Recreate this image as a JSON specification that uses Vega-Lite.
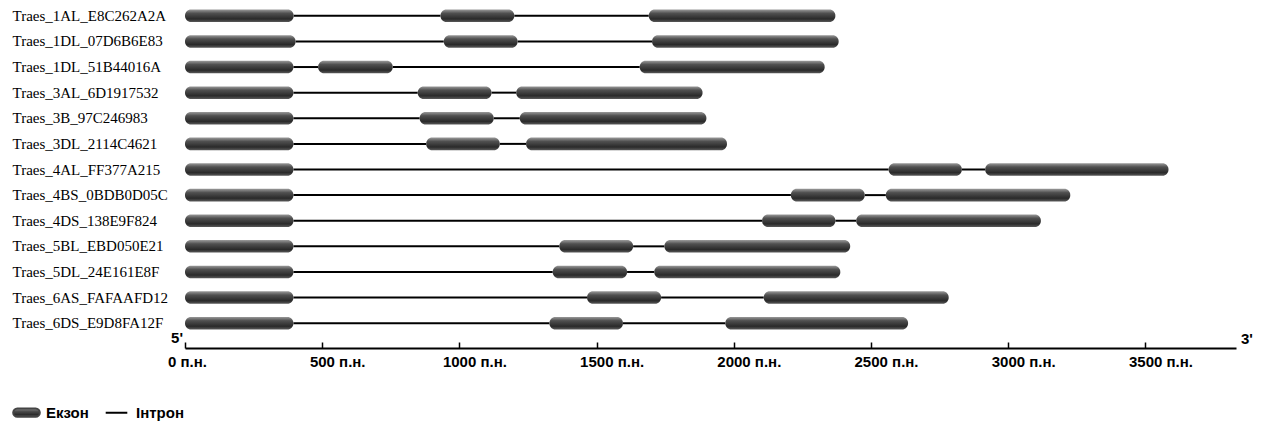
{
  "$schema": "https://vega.github.io/schema/vega-lite/v6.json",
  "autosize": {"type": "none"},
  "width": 1051,
  "height": 333,
  "padding": {"left": 185, "top": 3, "right": 25, "bottom": 89},
  "background": "white",
  "config": {"view": {"stroke": null}},
  "data": {"values": [
    {"gene": "Traes_1AL_E8C262A2A", "type": "Екзон", "start": 0, "end": 396},
    {"gene": "Traes_1AL_E8C262A2A", "type": "Інтрон", "start": 396, "end": 931},
    {"gene": "Traes_1AL_E8C262A2A", "type": "Екзон", "start": 931, "end": 1200},
    {"gene": "Traes_1AL_E8C262A2A", "type": "Інтрон", "start": 1200, "end": 1690},
    {"gene": "Traes_1AL_E8C262A2A", "type": "Екзон", "start": 1690, "end": 2370},
    {"gene": "Traes_1DL_07D6B6E83", "type": "Екзон", "start": 0, "end": 403},
    {"gene": "Traes_1DL_07D6B6E83", "type": "Інтрон", "start": 403, "end": 943},
    {"gene": "Traes_1DL_07D6B6E83", "type": "Екзон", "start": 943, "end": 1212},
    {"gene": "Traes_1DL_07D6B6E83", "type": "Інтрон", "start": 1212, "end": 1702},
    {"gene": "Traes_1DL_07D6B6E83", "type": "Екзон", "start": 1702, "end": 2382},
    {"gene": "Traes_1DL_51B44016A", "type": "Екзон", "start": 0, "end": 395},
    {"gene": "Traes_1DL_51B44016A", "type": "Інтрон", "start": 395, "end": 485},
    {"gene": "Traes_1DL_51B44016A", "type": "Екзон", "start": 485, "end": 757},
    {"gene": "Traes_1DL_51B44016A", "type": "Інтрон", "start": 757, "end": 1657},
    {"gene": "Traes_1DL_51B44016A", "type": "Екзон", "start": 1657, "end": 2331},
    {"gene": "Traes_3AL_6D1917532", "type": "Екзон", "start": 0, "end": 395},
    {"gene": "Traes_3AL_6D1917532", "type": "Інтрон", "start": 395, "end": 848},
    {"gene": "Traes_3AL_6D1917532", "type": "Екзон", "start": 848, "end": 1117},
    {"gene": "Traes_3AL_6D1917532", "type": "Інтрон", "start": 1117, "end": 1207},
    {"gene": "Traes_3AL_6D1917532", "type": "Екзон", "start": 1207, "end": 1886},
    {"gene": "Traes_3B_97C246983", "type": "Екзон", "start": 0, "end": 395},
    {"gene": "Traes_3B_97C246983", "type": "Інтрон", "start": 395, "end": 855},
    {"gene": "Traes_3B_97C246983", "type": "Екзон", "start": 855, "end": 1125},
    {"gene": "Traes_3B_97C246983", "type": "Інтрон", "start": 1125, "end": 1220},
    {"gene": "Traes_3B_97C246983", "type": "Екзон", "start": 1220, "end": 1900},
    {"gene": "Traes_3DL_2114C4621", "type": "Екзон", "start": 0, "end": 395},
    {"gene": "Traes_3DL_2114C4621", "type": "Інтрон", "start": 395, "end": 879},
    {"gene": "Traes_3DL_2114C4621", "type": "Екзон", "start": 879, "end": 1147},
    {"gene": "Traes_3DL_2114C4621", "type": "Інтрон", "start": 1147, "end": 1243},
    {"gene": "Traes_3DL_2114C4621", "type": "Екзон", "start": 1243, "end": 1975},
    {"gene": "Traes_4AL_FF377A215", "type": "Екзон", "start": 0, "end": 395},
    {"gene": "Traes_4AL_FF377A215", "type": "Інтрон", "start": 395, "end": 2564},
    {"gene": "Traes_4AL_FF377A215", "type": "Екзон", "start": 2564, "end": 2831},
    {"gene": "Traes_4AL_FF377A215", "type": "Інтрон", "start": 2831, "end": 2916},
    {"gene": "Traes_4AL_FF377A215", "type": "Екзон", "start": 2916, "end": 3584},
    {"gene": "Traes_4BS_0BDB0D05C", "type": "Екзон", "start": 0, "end": 395},
    {"gene": "Traes_4BS_0BDB0D05C", "type": "Інтрон", "start": 395, "end": 2208},
    {"gene": "Traes_4BS_0BDB0D05C", "type": "Екзон", "start": 2208, "end": 2477},
    {"gene": "Traes_4BS_0BDB0D05C", "type": "Інтрон", "start": 2477, "end": 2554},
    {"gene": "Traes_4BS_0BDB0D05C", "type": "Екзон", "start": 2554, "end": 3226},
    {"gene": "Traes_4DS_138E9F824", "type": "Екзон", "start": 0, "end": 395},
    {"gene": "Traes_4DS_138E9F824", "type": "Інтрон", "start": 395, "end": 2103},
    {"gene": "Traes_4DS_138E9F824", "type": "Екзон", "start": 2103, "end": 2370},
    {"gene": "Traes_4DS_138E9F824", "type": "Інтрон", "start": 2370, "end": 2446},
    {"gene": "Traes_4DS_138E9F824", "type": "Екзон", "start": 2446, "end": 3119},
    {"gene": "Traes_5BL_EBD050E21", "type": "Екзон", "start": 0, "end": 395},
    {"gene": "Traes_5BL_EBD050E21", "type": "Інтрон", "start": 395, "end": 1364},
    {"gene": "Traes_5BL_EBD050E21", "type": "Екзон", "start": 1364, "end": 1633},
    {"gene": "Traes_5BL_EBD050E21", "type": "Інтрон", "start": 1633, "end": 1747},
    {"gene": "Traes_5BL_EBD050E21", "type": "Екзон", "start": 1747, "end": 2424},
    {"gene": "Traes_5DL_24E161E8F", "type": "Екзон", "start": 0, "end": 395},
    {"gene": "Traes_5DL_24E161E8F", "type": "Інтрон", "start": 395, "end": 1340},
    {"gene": "Traes_5DL_24E161E8F", "type": "Екзон", "start": 1340, "end": 1611},
    {"gene": "Traes_5DL_24E161E8F", "type": "Інтрон", "start": 1611, "end": 1710},
    {"gene": "Traes_5DL_24E161E8F", "type": "Екзон", "start": 1710, "end": 2388},
    {"gene": "Traes_6AS_FAFAAFD12", "type": "Екзон", "start": 0, "end": 395},
    {"gene": "Traes_6AS_FAFAAFD12", "type": "Інтрон", "start": 395, "end": 1465},
    {"gene": "Traes_6AS_FAFAAFD12", "type": "Екзон", "start": 1465, "end": 1735},
    {"gene": "Traes_6AS_FAFAAFD12", "type": "Інтрон", "start": 1735, "end": 2109},
    {"gene": "Traes_6AS_FAFAAFD12", "type": "Екзон", "start": 2109, "end": 2783},
    {"gene": "Traes_6DS_E9D8FA12F", "type": "Екзон", "start": 0, "end": 395},
    {"gene": "Traes_6DS_E9D8FA12F", "type": "Інтрон", "start": 395, "end": 1328},
    {"gene": "Traes_6DS_E9D8FA12F", "type": "Екзон", "start": 1328, "end": 1596},
    {"gene": "Traes_6DS_E9D8FA12F", "type": "Інтрон", "start": 1596, "end": 1969},
    {"gene": "Traes_6DS_E9D8FA12F", "type": "Екзон", "start": 1969, "end": 2635}
  ]},
  "encoding": {
    "y": {
      "field": "gene", "type": "nominal",
      "scale": {"paddingInner": 0, "paddingOuter": 0, "domain": ["Traes_1AL_E8C262A2A","Traes_1DL_07D6B6E83","Traes_1DL_51B44016A","Traes_3AL_6D1917532","Traes_3B_97C246983","Traes_3DL_2114C4621","Traes_4AL_FF377A215","Traes_4BS_0BDB0D05C","Traes_4DS_138E9F824","Traes_5BL_EBD050E21","Traes_5DL_24E161E8F","Traes_6AS_FAFAAFD12","Traes_6DS_E9D8FA12F"]},
      "axis": {"title": null, "domain": false, "ticks": false, "tickSize": 0, "labelAlign": "left", "labelPadding": 173, "labelFont": "Liberation Serif", "labelFontSize": 15, "labelColor": "#000000", "labelLimit": 300}
    }
  },
  "layer": [
    {
      "transform": [{"filter": "datum.type === 'Інтрон'"}],
      "mark": {"type": "rule", "strokeWidth": 2},
      "encoding": {
        "x": {"field": "start", "type": "quantitative",
          "scale": {"domain": [0, 3830], "nice": false, "zero": true},
          "axis": {"title": null, "values": [0,500,1000,1500,2000,2500,3000,3500], "grid": false,
            "labelExpr": "datum.value + ' п.н.'", "labelAlign": "center", "labelBaseline": "top",
            "labelOffset": {"condition": {"test": "datum.value === 0", "value": 2}, "value": 15},
            "labelFont": "Liberation Sans", "labelFontWeight": "bold", "labelFontSize": 15, "labelColor": "#000000",
            "labelPadding": 12, "tickSize": -6, "tickColor": "#000000", "tickWidth": 1.5,
            "domainColor": "#000000", "domainWidth": 2, "offset": 12, "labelFlush": false, "labelOverlap": false}},
        "x2": {"field": "end"},
        "color": {"field": "type", "type": "nominal",
          "scale": {"domain": ["Екзон", "Інтрон"], "range": ["#444444", "#000000"]},
          "legend": {"title": null, "orient": "none", "legendX": -173, "legendY": 395, "direction": "horizontal",
            "padding": 0, "symbolSize": 729, "labelOffset": 5, "columnPadding": 12,
            "labelFont": "Liberation Sans", "labelFontWeight": "bold", "labelFontSize": 15, "labelColor": "#000000",
            "encode": {"symbols": {"update": {
              "shape": [{"test": "datum.value === 'Екзон'", "value": "M-0.675,-0.31L0.675,-0.31A0.31,0.31 0 0 1 0.675,0.31L-0.675,0.31A0.31,0.31 0 0 1 -0.675,-0.31Z"}, {"value": "M-0.8,0L0.8,0"}],
              "fill": [{"test": "datum.value === 'Екзон'", "value": {"gradient": "linear", "x1": 0, "y1": 0, "x2": 0, "y2": 1, "stops": [{"offset": 0, "color": "#9a9a9a"}, {"offset": 0.3, "color": "#505050"}, {"offset": 0.75, "color": "#2a2a2a"}, {"offset": 1, "color": "#5a5a5a"}]}}, {"value": "transparent"}],
              "stroke": [{"test": "datum.value === 'Екзон'", "value": "transparent"}, {"value": "#000000"}],
              "strokeWidth": {"value": 2},
              "opacity": {"value": 1}
            }}}
          }}
      }
    },
    {
      "transform": [{"filter": "datum.type === 'Екзон'"}],
      "mark": {"type": "bar", "cornerRadius": 6, "height": {"band": 0.49},
        "color": {"gradient": "linear", "x1": 0, "y1": 0, "x2": 0, "y2": 1, "stops": [{"offset": 0, "color": "#9a9a9a"}, {"offset": 0.3, "color": "#505050"}, {"offset": 0.75, "color": "#2a2a2a"}, {"offset": 1, "color": "#5a5a5a"}]}},
      "encoding": {
        "x": {"field": "start", "type": "quantitative"},
        "x2": {"field": "end"}
      }
    },
    {
      "data": {"values": [{"end_label": "5'", "pos": 0}]},
      "mark": {"type": "text", "align": "right", "baseline": "alphabetic", "dx": -2, "dy": 7, "font": "Liberation Sans", "fontWeight": "bold", "fontSize": 15, "color": "#000000"},
      "encoding": {"x": {"field": "pos", "type": "quantitative"}, "y": {"value": "height"}, "text": {"field": "end_label"}}
    },
    {
      "data": {"values": [{"end_label": "3'", "pos": 3830}]},
      "mark": {"type": "text", "align": "left", "baseline": "alphabetic", "dx": 5, "dy": 8, "font": "Liberation Sans", "fontWeight": "bold", "fontSize": 15, "color": "#000000"},
      "encoding": {"x": {"field": "pos", "type": "quantitative"}, "y": {"value": "height"}, "text": {"field": "end_label"}}
    }
  ]
}
